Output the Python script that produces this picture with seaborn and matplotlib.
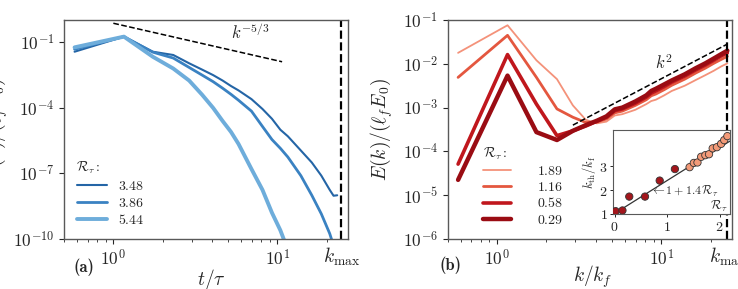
import numpy as np
import pandas as pd
import seaborn as sns
import matplotlib
matplotlib.use("Agg")
import matplotlib.pyplot as plt
from matplotlib.ticker import LogLocator, NullFormatter, NullLocator

# ---- panel (a) data: log10 of E ----
k_a = [0.58, 1.16, 1.74, 2.32, 2.90, 3.48, 4.06, 4.64, 5.22, 5.80, 6.96, 8.12,
       9.28, 10.44, 11.60, 13.92, 16.24, 18.56, 20.88, 22.04, 23.20]
logE_348 = [-1.43, -0.74, -1.43, -1.58, -1.96, -2.25, -2.50, -2.75, -3.00, -3.20, -3.60, -4.05,
            -4.50, -5.00, -5.30, -5.95, -6.50, -7.10, -7.75, -8.02, -8.00]
logE_386 = [-1.32, -0.74, -1.45, -1.72, -2.15, -2.50, -2.80, -3.10, -3.38, -3.65, -4.15, -4.85,
            -5.45, -5.85, -6.25, -7.10, -8.00, -8.85, -9.75, -10.30, None]
logE_544 = [-1.23, -0.74, -1.66, -2.20, -2.75, -3.40, -4.00, -4.60, -5.10, -5.65, -6.80, -7.75,
            -8.80, -9.60, -10.50, None, None, None, None, None, None]
labels_a = ["3.48", "3.86", "5.44"]
colors_a = ["#2465a6", "#3a82c2", "#6eaddb"]
widths_a = [1.5, 2.0, 2.8]

# ---- panel (b) data ----
k_b = [0.58, 1.16, 1.74, 2.32, 2.90, 3.48, 4.06, 4.64, 5.22, 5.80, 6.96, 8.12,
       8.70, 9.28, 10.44, 11.60, 13.92, 16.24, 18.56, 20.88, 23.20, 25.30]
logE_189 = [-1.75, -1.12, -1.92, -2.35, -2.95, -3.28, -3.36, -3.32, -3.18, -3.15, -3.05, -2.92,
            -2.85, -2.82, -2.72, -2.62, -2.50, -2.37, -2.26, -2.16, -2.06, -1.99]
logE_116 = [-2.31, -1.35, -2.31, -3.03, -3.22, -3.34, -3.33, -3.26, -3.12, -3.08, -2.95, -2.82,
            -2.73, -2.69, -2.59, -2.49, -2.35, -2.21, -2.10, -1.99, -1.90, -1.83]
logE_058 = [-4.29, -1.79, -2.92, -3.64, -3.53, -3.42, -3.31, -3.22, -3.07, -3.03, -2.90, -2.76,
            -2.67, -2.62, -2.52, -2.42, -2.28, -2.14, -2.03, -1.92, -1.82, -1.75]
logE_029 = [-4.65, -2.27, -3.56, -3.74, -3.53, -3.40, -3.30, -3.20, -3.04, -3.00, -2.86, -2.72,
            -2.62, -2.57, -2.47, -2.38, -2.24, -2.10, -1.99, -1.88, -1.78, -1.70]
labels_b = ["1.89", "1.16", "0.58", "0.29"]
colors_b = ["#f4927a", "#e4573f", "#c0171d", "#9a0c13"]
widths_b = [1.3, 2.0, 2.6, 3.2]

# ---- inset data ----
R_tau = [0.02, 0.15, 0.28, 0.58, 0.86, 1.15, 1.43, 1.51, 1.58, 1.65, 1.73, 1.80,
         1.87, 1.95, 2.03, 2.09, 2.15]
k_th = [1.10, 1.13, 1.72, 1.72, 2.40, 2.89, 2.97, 3.15, 3.17, 3.41, 3.48, 3.52,
        3.77, 3.82, 3.96, 4.12, 4.29]
group = ["low"] * 6 + ["high"] * 11

# guide lines (end points)
guide_a_k = [1.0, 10.7]
guide_a_E = [0.745, 0.0129]
guide_b_k = [2.9, 25.3]
guide_b_logE = [-3.40, -1.55]
kmax_a = 24.6
kmax_b = 25.3

sns.set_style("ticks", {"axes.edgecolor": ".35"})
plt.rcParams["font.family"] = ["DejaVu Serif", "DejaVu Sans"]
plt.rcParams["mathtext.fontset"] = "cm"

fig = plt.figure(figsize=(7.38, 2.89), dpi=100)
ax1 = fig.add_axes([64 / 738, 50 / 289, 284 / 738, 219 / 289])
ax2 = fig.add_axes([447.5 / 738, 50 / 289, 284.5 / 738, 219 / 289])


def to_E(vals):
    return [np.nan if v is None else 10.0 ** v for v in vals]


for vals, lab, col, lw in zip([logE_348, logE_386, logE_544], labels_a, colors_a, widths_a):
    df = pd.DataFrame({"k": k_a, "E": to_E(vals)}).dropna()
    sns.lineplot(data=df, x="k", y="E", ax=ax1, color=col, lw=lw, label="$" + lab + "$")

for vals, lab, col, lw in zip([logE_189, logE_116, logE_058, logE_029], labels_b, colors_b, widths_b):
    df = pd.DataFrame({"k": k_b, "E": to_E(vals)})
    sns.lineplot(data=df, x="k", y="E", ax=ax2, color=col, lw=lw, label="$" + lab + "$")

ax1.plot(guide_a_k, guide_a_E, "k--", lw=1.1)
ax2.plot(guide_b_k, to_E(guide_b_logE), "k--", lw=1.1)
ax1.axvline(kmax_a, color="k", ls="--", lw=1.6)
ax2.axvline(kmax_b, color="k", ls="--", lw=1.6)

for ax in (ax1, ax2):
    ax.set_xscale("log")
    ax.set_yscale("log")
    ax.set_xlim(0.5, 27)
    ax.set_xticks([1, 10])
    ax.set_xticklabels([r"$10^{0}$", r"$10^{1}$"])
    ax.xaxis.set_minor_locator(LogLocator(base=10, subs=np.arange(2, 10)))
    ax.xaxis.set_minor_formatter(NullFormatter())
    ax.yaxis.set_minor_locator(NullLocator())
    ax.yaxis.set_minor_formatter(NullFormatter())
    ax.tick_params(which="major", labelsize=12.5, length=3.5, width=0.8)
    ax.tick_params(which="minor", length=2, width=0.6)
    for s in ax.spines.values():
        s.set_visible(True)
        s.set_linewidth(1.0)

ax1.set_ylim(1e-10, 1.05)
ax1.set_yticks([1e-1, 1e-4, 1e-7, 1e-10])
ax1.set_yticklabels([r"$10^{-1}$", r"$10^{-4}$", r"$10^{-7}$", r"$10^{-10}$"])
ax2.set_ylim(1e-6, 1e-1)
ax2.set_yticks([1e-1, 1e-2, 1e-3, 1e-4, 1e-5, 1e-6])
ax2.set_yticklabels([r"$10^{-1}$", r"$10^{-2}$", r"$10^{-3}$", r"$10^{-4}$", r"$10^{-5}$", r"$10^{-6}$"])

ax1.set_xlabel(r"$t/\tau$", fontsize=14)
ax2.set_xlabel(r"$k/k_f$", fontsize=14)
ax1.xaxis.set_label_coords(0.52, -0.13)
ax2.xaxis.set_label_coords(0.51, -0.11)
for ax in (ax1, ax2):
    ax.set_ylabel(r"$E(k)/(\ell_f E_0)$", fontsize=14)
ax1.yaxis.set_label_coords(-0.19, 0.5)
ax2.yaxis.set_label_coords(-0.184, 0.5)

ax1.text(kmax_a, -0.08, r"$k_{\max}$", transform=ax1.get_xaxis_transform(), ha="center", va="center", fontsize=14)
ax2.text(kmax_b, -0.08, r"$k_{\max}$", transform=ax2.get_xaxis_transform(), ha="center", va="center", fontsize=14)
ax1.text(0.07, -0.13, "(a)", transform=ax1.transAxes, ha="center", va="center", fontsize=12, family="cmb10")
ax2.text(0.01, -0.12, "(b)", transform=ax2.transAxes, ha="center", va="center", fontsize=12, family="cmb10")
ax1.text(6.9, 0.26, r"$k^{-5/3}$", ha="center", va="center", fontsize=12)
ax2.text(10.4, 1e-2, r"$k^{2}$", ha="center", va="center", fontsize=12)

leg1 = ax1.legend(title=r"$\mathcal{R}_\tau:$", loc="lower left", bbox_to_anchor=(0.0, 0.0),
                  frameon=False, fontsize=10, title_fontsize=10, handlelength=2.2,
                  handletextpad=0.8, labelspacing=0.2, alignment="left")
leg2 = ax2.legend(title=r"$\mathcal{R}_\tau:$", loc="lower left", bbox_to_anchor=(0.08, 0.0),
                  frameon=False, fontsize=10, title_fontsize=10, handlelength=2.0,
                  handletextpad=1.9, labelspacing=0.15, alignment="left")

# inset
ins = fig.add_axes([613 / 738, (289 - 214) / 289, 117 / 738, 84 / 289])
sns.scatterplot(x=R_tau, y=k_th, hue=group, palette={"low": "#a3161c", "high": "#f39a78"},
                ax=ins, s=28, edgecolor="#333333", linewidth=0.6, legend=False, zorder=3)
ins.plot([0, 2.2], [1, 1 + 1.4 * 2.2], color="#333333", lw=0.9)
ins.set_xlim(-0.03, 2.2)
ins.set_ylim(0.98, 4.55)
ins.set_xticks([0, 1, 2])
ins.set_xticklabels(["$0$", "$1$", "$2$"])
ins.set_yticks([1, 2, 3])
ins.set_yticklabels(["$1$", "$2$", "$3$"])
ins.tick_params(labelsize=10, length=2.5, width=0.7, pad=1.5)
for s in ins.spines.values():
    s.set_visible(True)
ins.set_ylabel(r"$k_{\rm th}/k_{\rm f}$", fontsize=9, labelpad=1)
ins.text(0.68, 1.95, r"$\leftarrow 1+1.4\,\mathcal{R}_\tau$", ha="left", va="center", fontsize=8.5)
ins.text(0.98, 0.0, r"$\mathcal{R}_\tau$", transform=ins.transAxes, ha="right", va="bottom", fontsize=9)

fig.savefig("out.png", dpi=100)
